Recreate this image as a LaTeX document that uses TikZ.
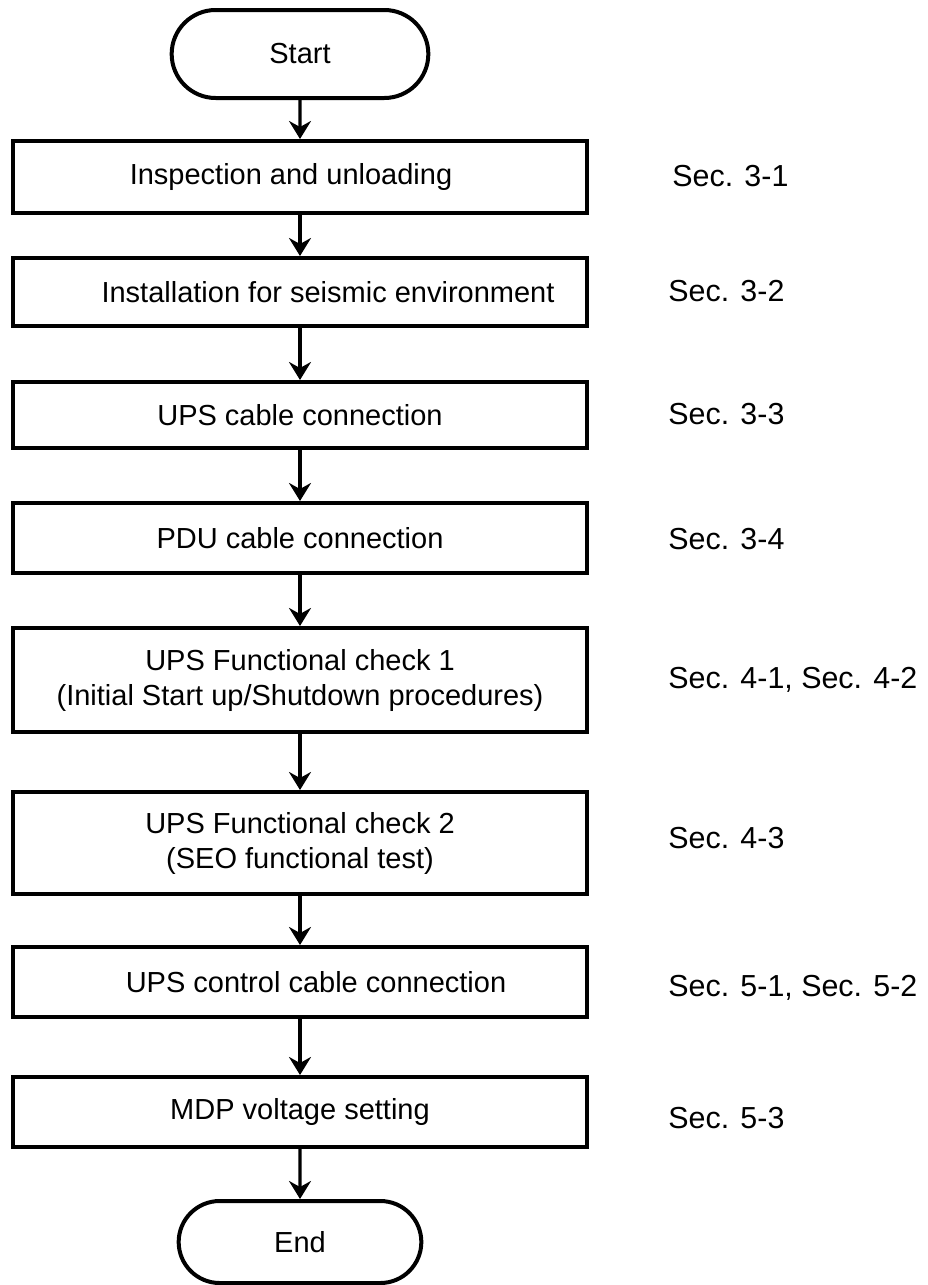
\documentclass[tikz,border=0pt]{standalone}
\usepackage{fontspec}
\setmainfont{Liberation Sans}
\usetikzlibrary{shapes.misc,arrows.meta}
\begin{document}
\begin{tikzpicture}[x=0.5pt,y=-0.5pt,
        every node/.style={font=\fontsize{14.5}{17.5}\selectfont},
        box/.style={draw,line width=2pt,minimum width=287pt,align=center,inner sep=0pt},
        term/.style={draw,line width=2pt,rounded rectangle,minimum width=135pt,minimum height=44pt},
        sec/.style={anchor=west,inner sep=0pt,font=\fontsize{15.2}{18}\selectfont},
        flow/.style={-{Stealth[length=9pt,width=11pt,inset=3pt]},line width=1.6pt}]
                \useasboundingbox(0,0)rectangle(927,1285);

                \node[term](0)at(300,54){Start};
                \node[box,minimum height=36pt](1)at(300,177){Inspection and unloading\hspace*{9pt}};
                \node[box,minimum height=34pt](2)at(300,292){\hspace*{28pt}Installation for seismic environment};
                \node[box,minimum height=33pt](3)at(300,415){UPS cable connection};
                \node[box,minimum height=35pt](4)at(300,538){PDU cable connection};
                \node[box,minimum height=52pt](5)at(300,680){UPS Functional check 1\\(Initial Start up/Shutdown procedures)};
                \node[box,minimum height=51pt](6)at(300,843){UPS Functional check 2\\(SEO functional test)};
                \node[box,minimum height=35pt](7)at(300,982){\hspace*{16pt}UPS control cable connection};
                \node[box,minimum height=35pt](8)at(300,1112){MDP voltage setting};
                \node[term,minimum width=128pt,minimum height=41pt](9)at(300,1242){End};

                \draw[flow](0)--(1);
                \draw[flow](1)--(2);
                \draw[flow](2)--(3);
                \draw[flow](3)--(4);
                \draw[flow](4)--(5);
                \draw[flow](5)--(6);
                \draw[flow](6)--(7);
                \draw[flow](7)--(8);
                \draw[flow](8)--(9);

                \node[sec](sec1)at(672,176){Sec. 3-1};
                \node[sec](sec2)at(668,291){Sec. 3-2};
                \node[sec](sec3)at(668,414){Sec. 3-3};
                \node[sec](sec4)at(668,539){Sec. 3-4};
                \node[sec](sec5)at(668,680){Sec. 4-1, Sec. 4-2};
                \node[sec](sec6)at(668,838){Sec. 4-3};
                \node[sec](sec7)at(668,988){Sec. 5-1, Sec. 5-2};
                \node[sec](sec8)at(668,1118){Sec. 5-3};
            \end{tikzpicture}
\end{document}
